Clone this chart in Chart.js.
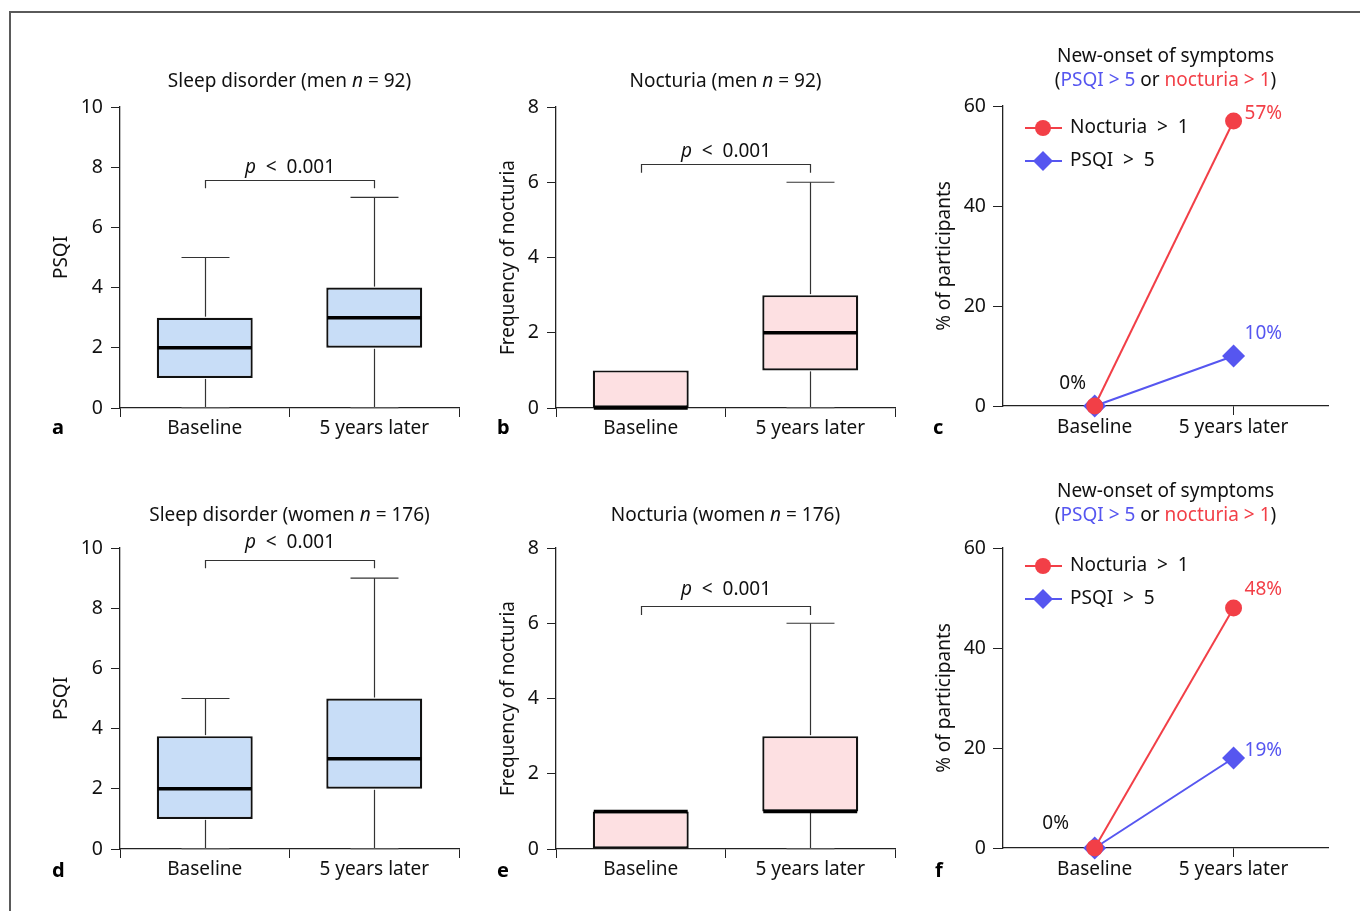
<!DOCTYPE html>
<html>
<head>
<meta charset="utf-8">
<script src="https://cdn.jsdelivr.net/npm/chart.js@4.4.1/dist/chart.umd.min.js"></script>
<style>
  body { margin: 0; background: #fff; }
  #wrap { position: relative; width: 1360px; height: 911px; overflow: hidden; }
  #frame { position: absolute; left: 9px; top: 11px; width: 1400px; height: 1000px;
           border-top: 2px solid #5a5a5a; border-left: 2px solid #5a5a5a; }
  canvas { position: absolute; left: 0; top: 0; }
</style>
</head>
<body>
<div id="wrap">
  <div id="frame"></div>
  <canvas id="chartA" width="1360" height="911"></canvas>
  <canvas id="chartB" width="1360" height="911"></canvas>
  <canvas id="chartC" width="1360" height="911"></canvas>
  <canvas id="chartD" width="1360" height="911"></canvas>
  <canvas id="chartE" width="1360" height="911"></canvas>
  <canvas id="chartF" width="1360" height="911"></canvas>
</div>
<script>
// Categories
const categories = ['Baseline', '5 years later'];

// a: PSQI, men
const menPsqiMin = [0, 0];
const menPsqiQ1 = [1, 2];
const menPsqiMedian = [2, 3];
const menPsqiQ3 = [3, 4];
const menPsqiMax = [5, 7];

// b: nocturia, men
const menNocMin = [0, 0];
const menNocQ1 = [0, 1];
const menNocMedian = [0, 2];
const menNocQ3 = [1, 3];
const menNocMax = [1, 6];

// d: PSQI, women
const womenPsqiMin = [0, 0];
const womenPsqiQ1 = [1, 2];
const womenPsqiMedian = [2, 3];
const womenPsqiQ3 = [3.75, 5];
const womenPsqiMax = [5, 9];

// e: nocturia, women
const womenNocMin = [0, 0];
const womenNocQ1 = [0, 1];
const womenNocMedian = [1, 1];
const womenNocQ3 = [1, 3];
const womenNocMax = [1, 6];

// c, f: new-onset (% of participants)
const menNocturiaPct = [0, 57];
const menPsqiPct = [0, 10];
const womenNocturiaPct = [0, 48];
const womenPsqiPct = [0, 18];
const menNocturiaText = ['0%', '57%'];
const menPsqiText = ['0%', '10%'];
const womenNocturiaText = ['0%', '48%'];
const womenPsqiText = ['0%', '19%'];

const RED = '#f23f47';
const BLUE = '#5656f0';
const INK = '#111';
const FONT = 'Noto Sans';

Chart.defaults.font.family = FONT;
Chart.defaults.font.size = 19.5;
Chart.defaults.color = INK;
Chart.defaults.animation = false;
Chart.defaults.devicePixelRatio = 1;

// draws a line of text made of styled parts, centred on cx
function richText(ctx, parts, cx, y, size) {
    ctx.textAlign = 'left';
    ctx.textBaseline = 'alphabetic';
    let w = 0;
    parts.forEach(p => {
        ctx.font = (p.i ? 'italic ' : '') + size + 'px "' + FONT + '"';
        w += ctx.measureText(p.t).width;
    });
    let x = cx - w / 2;
    parts.forEach(p => {
        ctx.font = (p.i ? 'italic ' : '') + size + 'px "' + FONT + '"';
        ctx.fillStyle = p.c || INK;
        ctx.fillText(p.t, x, y);
        x += ctx.measureText(p.t).width;
    });
}

function letterPlugin(letter, pos) {
    return {
        id: 'letter',
        afterDraw(chart) {
            const ctx = chart.ctx;
            ctx.save();
            ctx.font = 'bold 20px "' + FONT + '"';
            ctx.fillStyle = '#000';
            ctx.textAlign = 'left';
            ctx.textBaseline = 'alphabetic';
            ctx.fillText(letter, pos[0], pos[1]);
            ctx.restore();
        }
    };
}

function titlePlugin(lines) {
    return {
        id: 'panelTitle',
        afterDraw(chart) {
            const ctx = chart.ctx;
            const cx = (chart.chartArea.left + chart.chartArea.right) / 2;
            ctx.save();
            lines.forEach(l => richText(ctx, l.parts, cx, l.y, 19));
            ctx.restore();
        }
    };
}

function axisOpts(area) {
    return {
        padding: {
            left: area[0] - 70,
            top: area[1],
            right: 1360 - area[2],
            bottom: 911 - area[3] - 40
        }
    };
}

function boxChart(id, o) {
    const boxes = {
        id: 'boxes',
        afterDatasetsDraw(chart) {
            const { ctx, scales: { y } } = chart;
            const meta = chart.getDatasetMeta(0);
            const line = (x1, y1, x2, y2) => {
                ctx.beginPath(); ctx.moveTo(x1, y1); ctx.lineTo(x2, y2); ctx.stroke();
            };
            ctx.save();
            meta.data.forEach((bar, i) => {
                const cx = Math.round(bar.x) + 0.5;
                const hw = bar.width / 2;
                ctx.strokeStyle = '#333';
                ctx.lineWidth = 1.2;
                if (o.max[i] > o.q3[i]) {
                    const yt = y.getPixelForValue(o.max[i]);
                    line(cx, y.getPixelForValue(o.q3[i]) - 1, cx, yt);
                    line(cx - hw / 2, yt, cx + hw / 2, yt);
                }
                if (o.min[i] < o.q1[i]) {
                    const yb = y.getPixelForValue(o.min[i]);
                    line(cx, y.getPixelForValue(o.q1[i]) + 1, cx, yb);
                    ctx.strokeStyle = '#888';
                    line(cx - hw / 2, yb, cx + hw / 2, yb);
                }
                ctx.strokeStyle = '#000';
                ctx.lineWidth = 3.5;
                const ym = y.getPixelForValue(o.median[i]);
                line(bar.x - hw + 1, ym, bar.x + hw - 1, ym);
            });
            // significance bracket
            const x0 = Math.round(meta.data[0].x) + 0.5;
            const x1 = Math.round(meta.data[1].x) + 0.5;
            const yt = Math.round(y.getPixelForValue(o.bracket[0])) + 0.5;
            const yd = y.getPixelForValue(o.bracket[1]);
            ctx.strokeStyle = '#333';
            ctx.lineWidth = 1.2;
            ctx.beginPath();
            ctx.moveTo(x0, yd); ctx.lineTo(x0, yt); ctx.lineTo(x1, yt); ctx.lineTo(x1, yd);
            ctx.stroke();
            richText(ctx, [{ t: 'p', i: true }, { t: '  <  0.001' }], (x0 + x1) / 2, yt - o.pGap, 19);
            ctx.restore();
        }
    };

    return new Chart(document.getElementById(id), {
        type: 'bar',
        data: {
            labels: categories,
            datasets: [{
                data: categories.map((c, i) => [o.q1[i], o.q3[i]]),
                backgroundColor: o.fill,
                borderColor: '#111',
                borderWidth: 2.2,
                borderSkipped: false,
                barPercentage: 0.566,
                categoryPercentage: 1
            }]
        },
        options: {
            responsive: false,
            layout: axisOpts(o.area),
            plugins: { legend: { display: false }, tooltip: { enabled: false } },
            scales: {
                x: {
                    afterFit: s => { s.height = 40; },
                    grid: { offset: true, drawOnChartArea: false, tickLength: 9, color: '#222' },
                    border: { color: '#222', width: 1.3 },
                    ticks: { padding: 0, font: { size: 19 } }
                },
                y: {
                    min: 0, max: o.yMax,
                    afterFit: s => { s.width = 70; },
                    grid: { drawOnChartArea: false, tickLength: 9, color: '#222' },
                    border: { color: '#222', width: 1.3 },
                    ticks: { stepSize: 2, padding: 8 },
                    title: { display: true, text: o.yTitle, font: { size: 19 }, padding: { top: o.yTitlePad, bottom: 0 } }
                }
            }
        },
        plugins: [boxes, titlePlugin(o.title), letterPlugin(o.letter, o.letterPos)]
    });
}

function onsetChart(id, o) {
    const extras = {
        id: 'onsetExtras',
        afterDatasetsDraw(chart) {
            const ctx = chart.ctx;
            ctx.save();
            ctx.font = '19px "' + FONT + '"';
            ctx.textBaseline = 'middle';
            // value labels at the 5-year points
            chart.data.datasets.forEach((ds, k) => {
                const pt = chart.getDatasetMeta(k).data[1];
                ctx.fillStyle = ds.borderColor;
                ctx.textAlign = 'left';
                ctx.fillText(o.texts[k][1], pt.x + 11, pt.y + o.labelDy[k]);
            });
            const p0 = chart.getDatasetMeta(0).data[0];
            ctx.fillStyle = INK;
            ctx.textAlign = 'center';
            ctx.fillText(o.texts[0][0], p0.x + o.zeroOff[0], p0.y + o.zeroOff[1]);
            // legend: line with marker
            const lx = chart.chartArea.left + 22;
            chart.data.datasets.forEach((ds, k) => {
                const ly = o.legendY[k];
                ctx.strokeStyle = ds.borderColor;
                ctx.fillStyle = ds.borderColor;
                ctx.lineWidth = 2;
                ctx.beginPath(); ctx.moveTo(lx, ly); ctx.lineTo(lx + 37, ly); ctx.stroke();
                Chart.helpers.drawPoint(ctx, { pointStyle: ds.pointStyle, radius: k === 0 ? 8 : 10, rotation: 0, borderWidth: 0 }, lx + 18, ly);
                ctx.fillStyle = INK;
                ctx.textAlign = 'left';
                ctx.fillText(ds.label, lx + 45, ly);
            });
            ctx.restore();
        }
    };

    return new Chart(document.getElementById(id), {
        type: 'line',
        data: {
            datasets: [{
                label: 'Nocturia  >  1',
                data: categories.map((c, i) => ({ x: i, y: o.nocturia[i] })),
                borderColor: RED, backgroundColor: RED,
                borderWidth: 2, pointStyle: 'circle', pointRadius: 8.5, pointBorderWidth: 0,
                clip: false
            }, {
                label: 'PSQI  >  5',
                data: categories.map((c, i) => ({ x: i, y: o.psqi[i] })),
                borderColor: BLUE, backgroundColor: BLUE,
                borderWidth: 2, pointStyle: 'rectRot', pointRadius: 11.5, pointBorderWidth: 0,
                clip: false
            }]
        },
        options: {
            responsive: false,
            layout: axisOpts(o.area),
            plugins: { legend: { display: false }, tooltip: { enabled: false } },
            scales: {
                x: {
                    type: 'linear', min: -0.66, max: 1.68,
                    afterFit: s => { s.height = 40; },
                    grid: { drawOnChartArea: false, tickLength: 9, color: '#222' },
                    border: { color: '#222', width: 1.3 },
                    ticks: { stepSize: 1, includeBounds: false, padding: 1, font: { size: 19 }, callback: v => categories[v] }
                },
                y: {
                    min: 0, max: 60,
                    afterFit: s => { s.width = 70; },
                    grid: { drawOnChartArea: false, tickLength: 10, color: '#222' },
                    border: { color: '#222', width: 1.3 },
                    ticks: { stepSize: 20, padding: 7 },
                    title: { display: true, text: '% of participants', font: { size: 19 }, padding: { top: 0, bottom: 0 } }
                }
            }
        },
        plugins: [extras, titlePlugin(o.title), letterPlugin(o.letter, o.letterPos)]
    });
}

const onsetTitle = (y1, y2) => [
    { y: y1, parts: [{ t: 'New-onset of symptoms' }] },
    { y: y2, parts: [{ t: '(' }, { t: 'PSQI > 5', c: BLUE }, { t: ' or ' }, { t: 'nocturia > 1', c: RED }, { t: ')' }] }
];

boxChart('chartA', {
    area: [120, 107, 459, 408], yMax: 10, fill: '#c8ddf7',
    min: menPsqiMin, q1: menPsqiQ1, median: menPsqiMedian, q3: menPsqiQ3, max: menPsqiMax,
    bracket: [7.57, 7.3], pGap: 8,
    yTitle: 'PSQI', yTitlePad: 0,
    title: [{ y: 87, parts: [{ t: 'Sleep disorder (men ' }, { t: 'n', i: true }, { t: ' = 92)' }] }],
    letter: 'a', letterPos: [52, 434]
});

boxChart('chartB', {
    area: [556, 107, 895, 408], yMax: 8, fill: '#fde0e2',
    min: menNocMin, q1: menNocQ1, median: menNocMedian, q3: menNocQ3, max: menNocMax,
    bracket: [6.48, 6.25], pGap: 8,
    yTitle: 'Frequency of nocturia', yTitlePad: 11,
    title: [{ y: 87, parts: [{ t: 'Nocturia (men ' }, { t: 'n', i: true }, { t: ' = 92)' }] }],
    letter: 'b', letterPos: [497, 434]
});

onsetChart('chartC', {
    area: [1003, 106, 1328, 406],
    nocturia: menNocturiaPct, psqi: menPsqiPct, texts: [menNocturiaText, menPsqiText],
    labelDy: [-7, -22], zeroOff: [-22, -22], legendY: [128, 161],
    title: onsetTitle(62, 86),
    letter: 'c', letterPos: [933, 434]
});

boxChart('chartD', {
    area: [120, 548, 459, 849], yMax: 10, fill: '#c8ddf7',
    min: womenPsqiMin, q1: womenPsqiQ1, median: womenPsqiMedian, q3: womenPsqiQ3, max: womenPsqiMax,
    bracket: [9.6, 9.33], pGap: 13,
    yTitle: 'PSQI', yTitlePad: 0,
    title: [{ y: 521, parts: [{ t: 'Sleep disorder (women ' }, { t: 'n', i: true }, { t: ' = 176)' }] }],
    letter: 'd', letterPos: [52, 877]
});

boxChart('chartE', {
    area: [556, 548, 895, 849], yMax: 8, fill: '#fde0e2',
    min: womenNocMin, q1: womenNocQ1, median: womenNocMedian, q3: womenNocQ3, max: womenNocMax,
    bracket: [6.46, 6.22], pGap: 12,
    yTitle: 'Frequency of nocturia', yTitlePad: 11,
    title: [{ y: 521, parts: [{ t: 'Nocturia (women ' }, { t: 'n', i: true }, { t: ' = 176)' }] }],
    letter: 'e', letterPos: [497, 877]
});

onsetChart('chartF', {
    area: [1003, 548, 1328, 848],
    nocturia: womenNocturiaPct, psqi: womenPsqiPct, texts: [womenNocturiaText, womenPsqiText],
    labelDy: [-18, -7], zeroOff: [-39, -24], legendY: [566, 599],
    title: onsetTitle(497, 521),
    letter: 'f', letterPos: [935, 877]
});
</script>
</body>
</html>
